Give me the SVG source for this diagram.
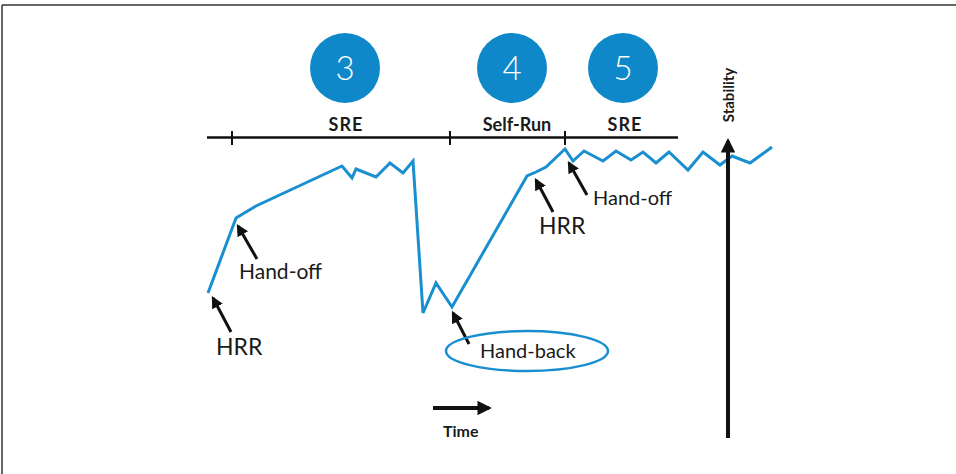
<svg xmlns="http://www.w3.org/2000/svg" width="956" height="474" viewBox="0 0 956 474">
<defs>
<marker id="ah" viewBox="0 0 10 10" refX="8" refY="5" markerWidth="4" markerHeight="4" orient="auto" markerUnits="strokeWidth">
<path d="M0,0 L10,5 L0,10 z" fill="#111"/>
</marker>
<marker id="ahb" viewBox="0 0 10 10" refX="8" refY="5" markerWidth="3.6" markerHeight="3.6" orient="auto" markerUnits="strokeWidth">
<path d="M0,0 L10,5 L0,10 z" fill="#111"/>
</marker>
</defs>
<style>
.lbl{font-family:Lato,"Liberation Sans",sans-serif;fill:#1a1a1a}
.num{font-family:Lato,"Liberation Sans",sans-serif;fill:#fff;font-size:33px;text-anchor:middle;font-weight:300}
.hdr{font-family:Lato,"Liberation Sans",sans-serif;fill:#1a1a1a;font-size:18px;text-anchor:middle;font-weight:bold}
.circ{fill:#0f88c9}
.arr{stroke:#111;stroke-width:3;fill:none;marker-end:url(#ah)}
</style>
<rect width="956" height="474" fill="#fff"/>
<g id="frame">
<line x1="2" y1="5" x2="956" y2="5" stroke="#333" stroke-width="1.5"/>
<line x1="2" y1="5" x2="2" y2="474" stroke="#333" stroke-width="1.5"/>
</g>
<g id="step3"><circle class="circ" cx="345" cy="68" r="35"/><text class="num" x="345" y="80">3</text></g>
<g id="step4"><circle class="circ" cx="512" cy="68" r="35"/><text class="num" x="512" y="80">4</text></g>
<g id="step5"><circle class="circ" cx="623" cy="68" r="35"/><text class="num" x="623" y="80">5</text></g>
<g id="timeline">
<line x1="207" y1="137.5" x2="678" y2="137.5" stroke="#111" stroke-width="2.5"/>
<line x1="232" y1="131" x2="232" y2="145" stroke="#111" stroke-width="2"/>
<line x1="450" y1="131" x2="450" y2="145" stroke="#111" stroke-width="2"/>
<line x1="565" y1="131" x2="565" y2="145" stroke="#111" stroke-width="2"/>
<text class="hdr" x="346" y="131" letter-spacing="1">SRE</text>
<text class="hdr" x="517" y="131">Self-Run</text>
<text class="hdr" x="625" y="131" letter-spacing="1">SRE</text>
</g>
<g id="stability-curve">
<polyline fill="none" stroke="#1a8fd0" stroke-width="3" stroke-linejoin="miter" points="208,293 236,218 256,206 342,166 352,178 356,169 376,177 390,163 403,173 413,161 423,313 436,283 452,307 527,176 536,172 546,167 565,149 573,161 584,151 603,161 616,151 631,160 643,152 656,163 669,152 688,170 703,152 720,165 732,156 750,163 772,147"/>
</g>
<g id="connectors">
<line class="arr" x1="231" y1="332" x2="213" y2="298"/>
<line class="arr" x1="257" y1="259" x2="238" y2="226"/>
<line class="arr" x1="469" y1="344" x2="453" y2="313"/>
<line class="arr" x1="553" y1="212" x2="536" y2="180"/>
<line class="arr" x1="587" y1="195" x2="569" y2="163"/>
<line stroke="#111" stroke-width="4" fill="none" marker-end="url(#ahb)" x1="433" y1="408" x2="489" y2="408"/>
<line stroke="#111" stroke-width="4" fill="none" marker-end="url(#ahb)" x1="728" y1="438" x2="728" y2="141"/>
</g>
<g id="hrr1"><text class="lbl" x="216" y="355" font-size="23">HRR</text></g>
<g id="handoff1"><text class="lbl" x="239" y="279" font-size="21">Hand-off</text></g>
<g id="handback">
<ellipse cx="527" cy="351" rx="81" ry="20" fill="none" stroke="#1a8fd0" stroke-width="2.5"/>
<text class="lbl" x="480" y="358" font-size="20">Hand-back</text>
</g>
<g id="hrr2"><text class="lbl" x="539" y="234" font-size="23">HRR</text></g>
<g id="handoff2"><text class="lbl" x="593" y="205" font-size="20">Hand-off</text></g>
<g id="time"><text class="lbl" x="443" y="437" font-size="16" font-weight="bold">Time</text></g>
<g id="stability"><text class="lbl" transform="translate(734,95) rotate(-90)" font-size="15" font-weight="bold" text-anchor="middle">Stability</text></g>
</svg>
